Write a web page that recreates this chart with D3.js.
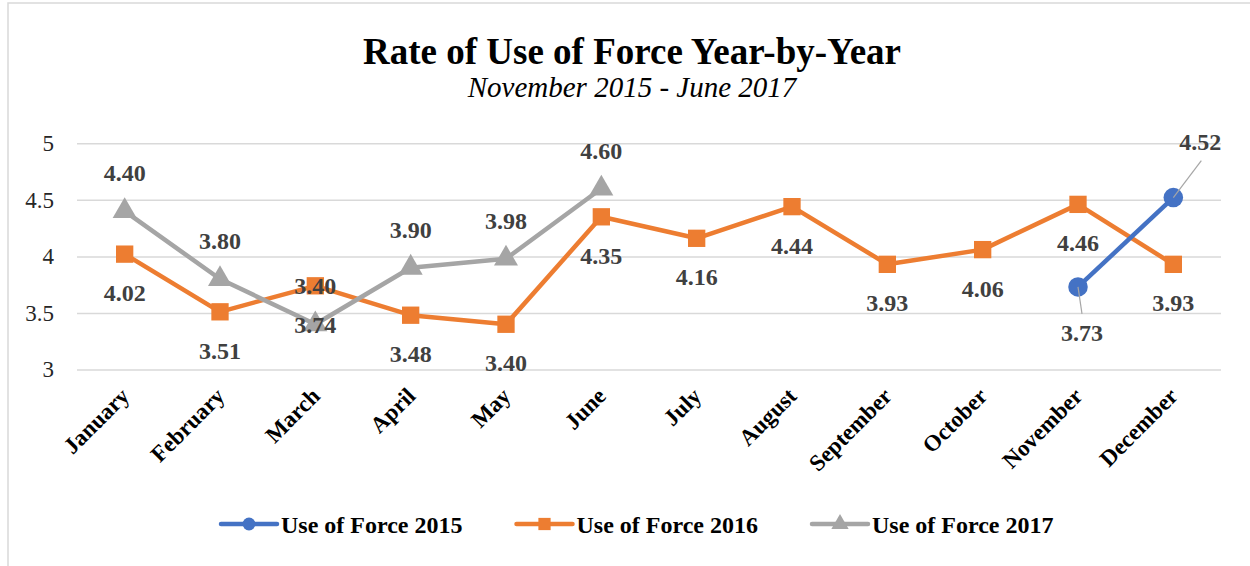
<!DOCTYPE html>
<html>
<head>
<meta charset="utf-8">
<script src="https://cdn.jsdelivr.net/npm/d3@7"></script>
<style>
body { margin: 0; background: #fff; }
text { font-family: "Liberation Serif", "Times New Roman", serif; }
</style>
</head>
<body>
<script>
var months = ["January", "February", "March", "April", "May", "June", "July",
    "August", "September", "October", "November", "December"];
var uof2015 = [null, null, null, null, null, null, null, null, null, null, 3.73, 4.52];
var uof2016 = [4.02, 3.51, 3.74, 3.48, 3.40, 4.35, 4.16, 4.44, 3.93, 4.06, 4.46, 3.93];
var uof2017 = [4.40, 3.80, 3.40, 3.90, 3.98, 4.60, null, null, null, null, null, null];
var yTicks = [3, 3.5, 4, 4.5, 5];

var svg = d3.select("body").append("svg").attr("width", 1250).attr("height", 566);

svg.append("rect")
    .attr("x", 8).attr("y", 3).attr("width", 1260).attr("height", 580)
    .attr("fill", "#fff").attr("stroke", "#d9d9d9").attr("stroke-width", 1.5);

svg.append("text").attr("x", 632).attr("y", 64)
    .attr("text-anchor", "middle").attr("font-size", 37).attr("font-weight", "bold")
    .attr("fill", "#000").text("Rate of Use of Force Year-by-Year");
svg.append("text").attr("x", 632).attr("y", 97)
    .attr("text-anchor", "middle").attr("font-size", 29).attr("font-style", "italic")
    .attr("fill", "#000").text("November 2015 - June 2017");

var left = 77, right = 1221;
var x = d3.scaleBand().domain(months).range([left, right]);
var y = d3.scaleLinear().domain([3, 5]).range([369.5, 143.3]);
var cx = function (m) { return x(m) + x.bandwidth() / 2; };

// grid + y labels
var gy = svg.append("g").attr("transform", "translate(" + left + ",0)")
    .call(d3.axisLeft(y).tickValues(yTicks).tickSize(-(right - left)).tickPadding(23)
        .tickFormat(d3.format("")));
gy.select(".domain").remove();
gy.selectAll("line").attr("stroke", "#d9d9d9").attr("stroke-width", 1.5);
gy.selectAll("text").attr("font-size", 23).attr("fill", "#262626")
    .style("font-family", "'Liberation Serif', serif");

// x labels
var gx = svg.append("g").attr("transform", "translate(0,369.5)")
    .call(d3.axisBottom(x).tickSize(0).tickPadding(0));
gx.select(".domain").remove();
gx.selectAll("text")
    .attr("font-size", 23).attr("font-weight", "bold").attr("fill", "#000")
    .style("font-family", "'Liberation Serif', serif")
    .attr("text-anchor", "end").attr("dy", null).attr("y", 0)
    .attr("transform", "translate(6,28) rotate(-45)");

var series = [
    { name: "Use of Force 2016", values: uof2016, color: "#ED7D31", marker: "square", labelDy: 47, labelDx: 0 },
    { name: "Use of Force 2017", values: uof2017, color: "#A5A5A5", marker: "triangle", labelDy: -30, labelDx: 0 },
    { name: "Use of Force 2015", values: uof2015, color: "#4472C4", marker: "circle", labelDy: 0, labelDx: 0 }
];

var symbols = {
    square: d3.symbol().type(d3.symbolSquare).size(300),
    triangle: d3.symbol().type(d3.symbolTriangle).size(250),
    circle: d3.symbol().type(d3.symbolCircle).size(300)
};
var legendSymbols = {
    square: d3.symbol().type(d3.symbolSquare).size(150),
    triangle: d3.symbol().type(d3.symbolTriangle).size(130),
    circle: d3.symbol().type(d3.symbolCircle).size(130)
};

var line = d3.line()
    .defined(function (d) { return d.v !== null; })
    .x(function (d) { return cx(d.m); })
    .y(function (d) { return y(d.v); });

function pts(s) {
    return s.values.map(function (v, i) { return { m: months[i], v: v }; });
}

// 2015 leader lines & label offsets
var offs2015 = { "November": [4, 54], "December": [27, -48] };
var lead2015 = { "November": [4, 27], "December": [28, -37] };

series.forEach(function (s) {
    var p = pts(s);
    svg.append("path").datum(p).attr("d", line)
        .attr("fill", "none").attr("stroke", s.color).attr("stroke-width", 4.5)
        .attr("stroke-linejoin", "round");
    svg.append("g").selectAll("path").data(p.filter(function (d) { return d.v !== null; }))
        .enter().append("path")
        .attr("d", symbols[s.marker])
        .attr("transform", function (d) { return "translate(" + cx(d.m) + "," + y(d.v) + ")"; })
        .attr("fill", s.color);
});

var labels = svg.append("g");
series.forEach(function (s) {
    var p = pts(s).filter(function (d) { return d.v !== null; });
    p.forEach(function (d) {
        var px = cx(d.m), py = y(d.v), dx = s.labelDx, dy = s.labelDy;
        if (s.marker === "circle") {
            labels.append("line")
                .attr("x1", px).attr("y1", py)
                .attr("x2", px + lead2015[d.m][0]).attr("y2", py + lead2015[d.m][1])
                .attr("stroke", "#a6a6a6").attr("stroke-width", 1.2);
            dx = offs2015[d.m][0]; dy = offs2015[d.m][1];
        }
        labels.append("text").attr("x", px + dx).attr("y", py + dy)
            .attr("text-anchor", "middle").attr("font-size", 24).attr("font-weight", "bold")
            .attr("fill", "#404040").text(d3.format(".2f")(d.v));
    });
});

// legend
var legendOrder = [series[2], series[0], series[1]];
var lg = svg.append("g");
var lx = 221, ly = 524;
legendOrder.forEach(function (s) {
    var g = lg.append("g").attr("transform", "translate(" + lx + "," + ly + ")");
    g.append("line").attr("x1", 0).attr("x2", 56).attr("y1", 0).attr("y2", 0)
        .attr("stroke", s.color).attr("stroke-width", 4.5).attr("stroke-linecap", "round");
    g.append("path").attr("d", legendSymbols[s.marker]).attr("transform", "translate(28,0)").attr("fill", s.color);
    var t = g.append("text").attr("x", 60).attr("y", 8.5)
        .attr("font-size", 24).attr("font-weight", "bold").attr("fill", "#000").text(s.name);
    lx += 60 + t.node().getComputedTextLength() + 54;
});
</script>
</body>
</html>
